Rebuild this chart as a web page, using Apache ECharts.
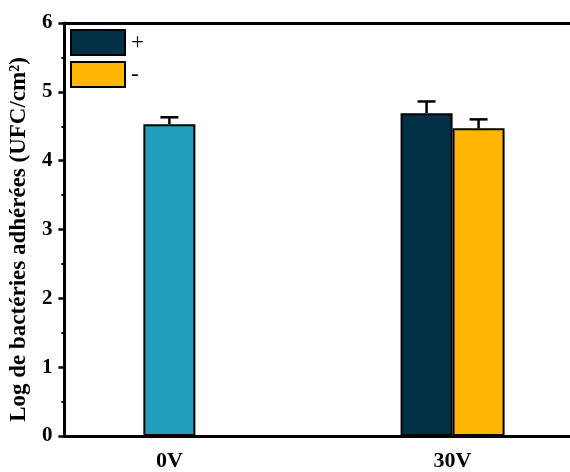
<!DOCTYPE html>
<html>
<head>
<meta charset="utf-8">
<script src="https://cdn.jsdelivr.net/npm/echarts@6/dist/echarts.min.js"></script>
<style>
html,body{margin:0;padding:0;background:#fff;}
#chart{width:570px;height:472px;}
</style>
</head>
<body>
<div id="chart"></div>
<script>
// ---- data ----
const categories = ['0V', '30V'];
const categoryVoltages = [0, 30];
const seriesNames = ['+', '-'];
const control0V = 4.53;
const control0VErr = 0.10;
const plusValues = [4.69];
const plusErr = [0.17];
const minusValues = [4.47];
const minusErr = [0.13];
const yTicks = [0, 1, 2, 3, 4, 5, 6];

const FONT = '"Liberation Serif", "Times New Roman", serif';
const BAR_W = 52;
const X_MIN = -11.12, X_MAX = 42.44;

const chart = echarts.init(document.getElementById('chart'));

const errData = [
  [categoryVoltages[0], control0V, control0VErr, 0],
  [categoryVoltages[1], plusValues[0], plusErr[0], -1],
  [categoryVoltages[1], minusValues[0], minusErr[0], 1]
];

const axisCommon = {
  type: 'value', min: X_MIN, max: X_MAX,
  splitLine: {show: false}, axisTick: {show: false}
};

chart.setOption({
  animation: false,
  backgroundColor: '#fff',
  grid: {left: 62, right: 0, top: 23, bottom: 33, containLabel: false},
  legend: {
    data: seriesNames, orient: 'vertical', left: 70, top: 29, padding: 0,
    itemWidth: 54, itemHeight: 25, itemGap: 5, icon: 'rect',
    itemStyle: {borderColor: '#000', borderWidth: 2},
    textStyle: {fontFamily: FONT, fontSize: 23, color: '#000', padding: [0, 0, 0, 1]}
  },
  xAxis: [
    Object.assign({}, axisCommon, {
      position: 'bottom',
      axisLine: {show: true, onZero: false, lineStyle: {color: '#000', width: 3}},
      axisLabel: {
        show: true, customValues: categoryVoltages, margin: 14,
        formatter: v => categories[categoryVoltages.indexOf(v)] || '',
        fontFamily: FONT, fontSize: 22, fontWeight: 'bold', color: '#000'
      }
    }),
    Object.assign({}, axisCommon, {
      position: 'top',
      axisLine: {show: true, onZero: false, lineStyle: {color: '#000', width: 3}},
      axisLabel: {show: false}
    })
  ],
  yAxis: {
    type: 'value', min: 0, max: 6, interval: 1,
    name: 'Log de bactéries adhérées (UFC/cm²)',
    nameLocation: 'middle', nameGap: 31,
    nameTextStyle: {fontFamily: FONT, fontSize: 23, fontWeight: 'bold', color: '#000', padding: [0, 20, 0, 0]},
    axisLine: {show: true, onZero: false, lineStyle: {color: '#000', width: 3}},
    axisTick: {show: true, inside: false, length: 6, lineStyle: {color: '#000', width: 2.5}},
    minorTick: {show: true, splitNumber: 2, length: 3, lineStyle: {color: '#000', width: 2}},
    axisLabel: {
      margin: 12, fontFamily: FONT, fontSize: 21, fontWeight: 'bold', color: '#000',
      customValues: yTicks
    },
    splitLine: {show: false}
  },
  series: [
    {
      name: '0V', type: 'bar', xAxisIndex: 0, barWidth: BAR_W,
      data: [[categoryVoltages[0], control0V]],
      itemStyle: {color: '#219EBC', borderColor: '#000', borderWidth: 2}
    },
    {
      name: seriesNames[0], type: 'bar', xAxisIndex: 1, barWidth: BAR_W, barGap: '0%',
      data: [[categoryVoltages[1], plusValues[0]]],
      itemStyle: {color: '#023047', borderColor: '#000', borderWidth: 2}
    },
    {
      name: seriesNames[1], type: 'bar', xAxisIndex: 1, barWidth: BAR_W, barGap: '0%',
      data: [[categoryVoltages[1], minusValues[0]]],
      itemStyle: {color: '#FFB703', borderColor: '#000', borderWidth: 2}
    },
    {
      type: 'custom', xAxisIndex: 0, z: 5, silent: true,
      data: errData,
      renderItem: function (params, api) {
        const x = api.value(0), v = api.value(1), e = api.value(2), slot = api.value(3);
        const base = api.coord([x, v]);
        const top = api.coord([x, v + e]);
        const cx = base[0] + slot * BAR_W / 2;
        const capHalf = 9;
        const st = {stroke: '#000', lineWidth: 2.5};
        return {
          type: 'group',
          children: [
            {type: 'line', shape: {x1: cx, y1: base[1], x2: cx, y2: top[1]}, style: st},
            {type: 'line', shape: {x1: cx - capHalf, y1: top[1], x2: cx + capHalf, y2: top[1]}, style: st}
          ]
        };
      }
    }
  ]
});
</script>
</body>
</html>
